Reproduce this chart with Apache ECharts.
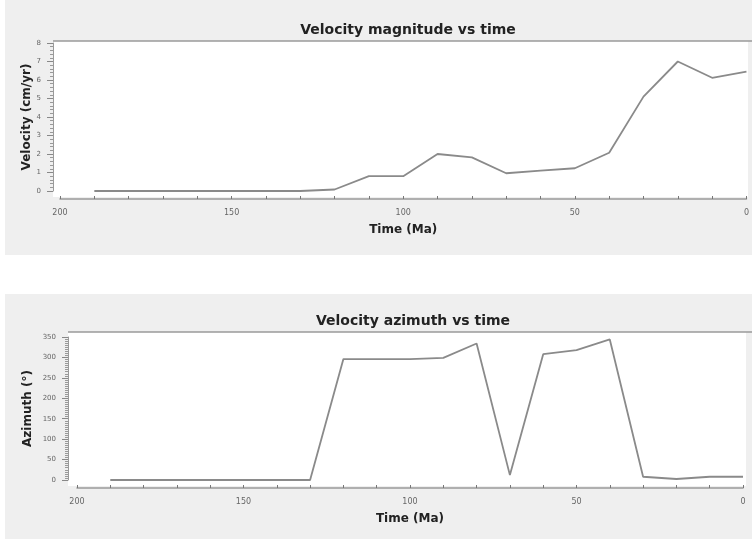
<!DOCTYPE html>
<html>
<head>
<meta charset="utf-8">
<script src="https://cdn.jsdelivr.net/npm/echarts@6/dist/echarts.min.js"></script>
<style>
  * { margin: 0; padding: 0; }
  body { background: #ffffff; }
  #chart { width: 752px; height: 539px; }
</style>
</head>
<body>
<div id="chart"></div>
<script>
// data
var timesMa = [190, 180, 170, 160, 150, 140, 130, 120, 110, 100, 90, 80, 70, 60, 50, 40, 30, 20, 10, 0];
var velocity = [0, 0, 0, 0, 0, 0, 0, 0.08, 0.8, 0.8, 2.0, 1.82, 0.96, 1.1, 1.23, 2.07, 5.1, 7.0, 6.12, 6.45];
var azimuth = [0, 0, 0, 0, 0, 0, 0, 296, 296, 296, 299, 334, 12, 308, 318, 344, 8, 2.5, 8, 8];
var timeTicks = [0, 50, 100, 150, 200];

function pairs(ys) {
  return timesMa.map(function (t, i) { return [t, ys[i]]; });
}

var font = 'DejaVu Sans, Verdana, sans-serif';
var lineGray = '#8a8a8a';

function xAxisFor(gridIndex) {
  return {
    type: 'value', gridIndex: gridIndex, min: 0, max: 200, interval: 10, inverse: true,
    offset: 8,
    name: 'Time (Ma)', nameLocation: 'middle', nameGap: 25,
    nameTextStyle: { fontFamily: font, fontWeight: 'bold', fontSize: 12, color: '#222' },
    axisLine: { show: true, onZero: false, lineStyle: { color: '#9a9a9a', width: 1.5 } },
    axisTick: { show: true, inside: true, length: 3, lineStyle: { color: '#777' } },
    axisLabel: {
      fontFamily: font, fontSize: 8, color: '#666', margin: 10,
      formatter: function (v) { return timeTicks.indexOf(v) >= 0 ? String(v) : ''; }
    },
    splitLine: { show: false }
  };
}

function yAxisFor(gridIndex, max, step, minorSplit, name, gap, offset) {
  return {
    type: 'value', gridIndex: gridIndex, min: 0, max: max, interval: step,
    position: 'left', offset: offset,
    name: name, nameLocation: 'middle', nameGap: gap, nameMoveOverlap: false,
    nameTextStyle: { fontFamily: font, fontWeight: 'bold', fontSize: 12, color: '#222' },
    axisLine: { show: true, onZero: false, lineStyle: { color: '#9a9a9a' } },
    axisTick: { show: true, length: 6, lineStyle: { color: '#888' } },
    minorTick: { show: true, splitNumber: minorSplit, length: 3, lineStyle: { color: '#999' } },
    axisLabel: { fontFamily: font, fontSize: 7, color: '#666', margin: 12 },
    splitLine: { show: false }
  };
}

var chart = echarts.init(document.getElementById('chart'));
chart.setOption({
  animation: false,
  backgroundColor: '#ffffff',
  graphic: [
    { type: 'rect', z: -10, shape: { x: 5, y: 0, width: 747, height: 255 }, style: { fill: '#efefef' } },
    { type: 'rect', z: -9, shape: { x: 53, y: 41, width: 695, height: 156 }, style: { fill: '#ffffff' } },
    { type: 'line', z: -8, shape: { x1: 53, y1: 41, x2: 752, y2: 41 }, style: { stroke: '#9a9a9a', lineWidth: 1.5 } },
    { type: 'rect', z: -10, shape: { x: 5, y: 294, width: 747, height: 245 }, style: { fill: '#efefef' } },
    { type: 'rect', z: -9, shape: { x: 68, y: 332, width: 678, height: 154 }, style: { fill: '#ffffff' } },
    { type: 'line', z: -8, shape: { x1: 68, y1: 332, x2: 752, y2: 332 }, style: { stroke: '#9a9a9a', lineWidth: 1.5 } }
  ],
  title: [
    {
      text: 'Velocity magnitude vs time', left: 403, top: 18, textAlign: 'center',
      textStyle: { fontFamily: font, fontWeight: 'bold', fontSize: 14, color: '#222' }
    },
    {
      text: 'Velocity azimuth vs time', left: 408, top: 309, textAlign: 'center',
      textStyle: { fontFamily: font, fontWeight: 'bold', fontSize: 14, color: '#222' }
    }
  ],
  grid: [
    { left: 60, width: 687, top: 43, height: 148 },
    { left: 77, width: 666, top: 337, height: 143 }
  ],
  xAxis: [xAxisFor(0), xAxisFor(1)],
  yAxis: [
    yAxisFor(0, 8, 1, 5, 'Velocity (cm/yr)', 20, 7),
    yAxisFor(1, 350, 50, 10, 'Azimuth (°)', 34, 9)
  ],
  series: [
    {
      type: 'line', xAxisIndex: 0, yAxisIndex: 0, data: pairs(velocity),
      showSymbol: false, lineStyle: { color: lineGray, width: 1.8 }
    },
    {
      type: 'line', xAxisIndex: 1, yAxisIndex: 1, data: pairs(azimuth),
      showSymbol: false, lineStyle: { color: lineGray, width: 1.8 }
    }
  ]
});
</script>
</body>
</html>
